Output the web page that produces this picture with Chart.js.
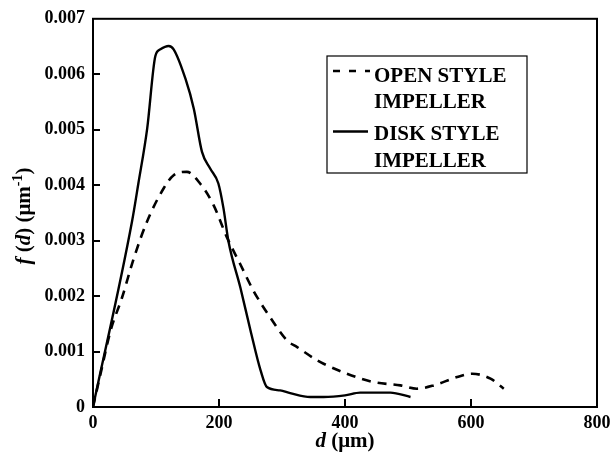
<!DOCTYPE html>
<html>
<head>
<meta charset="utf-8">
<script src="https://cdn.jsdelivr.net/npm/chart.js@4.4.1/dist/chart.umd.min.js"></script>
<style>
  html, body { margin: 0; padding: 0; background: #fff; }
  #wrap { width: 610px; height: 458px; }
</style>
</head>
<body>
<div id="wrap"><canvas id="myChart" width="610" height="458"></canvas></div>
<script>
'use strict';

// open style impeller (dashed)
let openD = [0, 12, 28, 46, 65, 86, 112, 128, 149, 170, 191, 213, 234, 255, 281, 308, 324, 356, 366, 403, 445, 488, 514, 541, 578, 602, 631, 652];
let openF = [0, 0.0006, 0.00138, 0.00197, 0.00269, 0.00335, 0.00394, 0.00418, 0.00424, 0.00403, 0.00365, 0.00305, 0.00257, 0.00209, 0.00162, 0.0012, 0.00108, 0.00084, 0.00078, 0.0006, 0.00045, 0.00039, 0.00033, 0.00039, 0.00054, 0.0006, 0.00051, 0.00033];

// disk style impeller (solid)
let diskD = [0, 62, 72, 86, 99, 107, 120, 128, 147, 160, 173, 186, 199, 207, 215, 234, 250, 266, 276, 297, 313, 345, 366, 400, 424, 472, 504];
let diskF = [0, 0.00335, 0.00403, 0.00502, 0.00633, 0.00645, 0.00651, 0.00645, 0.00591, 0.00538, 0.0046, 0.0043, 0.00403, 0.00359, 0.00299, 0.00215, 0.00138, 0.00066, 0.00036, 0.0003, 0.00025, 0.00018, 0.00018, 0.00021, 0.00026, 0.00026, 0.00018];

let xTicks = [0, 200, 400, 600, 800];
let yTicks = [0, 0.001, 0.002, 0.003, 0.004, 0.005, 0.006, 0.007];
let legendLines = [['OPEN STYLE', 'IMPELLER'], ['DISK STYLE', 'IMPELLER']];

const serif = "'Liberation Serif', 'Times New Roman', serif";

function toPoints(xs, ys) {
  let pts = [];
  for (let i = 0; i < xs.length; i++) {
    pts.push({ x: xs[i], y: ys[i] });
  }
  return pts;
}

let framePlugin = {
  id: 'frame',
  afterDraw(chart) {
    let ctx = chart.ctx;
    let a = chart.chartArea;
    let xs = chart.scales.x;
    let ys = chart.scales.y;
    ctx.save();
    ctx.strokeStyle = '#000';
    ctx.lineWidth = 2;
    ctx.strokeRect(a.left, a.top, a.right - a.left, a.bottom - a.top);

    // inward tick marks
    ctx.beginPath();
    for (let i = 1; i < xTicks.length - 1; i++) {
      let px = Math.round(xs.getPixelForValue(xTicks[i]));
      ctx.moveTo(px, a.bottom);
      ctx.lineTo(px, a.bottom - 8);
    }
    for (let i = 1; i < yTicks.length - 1; i++) {
      let py = Math.round(ys.getPixelForValue(yTicks[i]));
      ctx.moveTo(a.left, py);
      ctx.lineTo(a.left + 7, py);
    }
    ctx.stroke();

    // axis titles
    ctx.fillStyle = '#000';
    ctx.textBaseline = 'alphabetic';
    ctx.font = 'bold italic 21px ' + serif;
    let w1 = ctx.measureText('d').width;
    ctx.font = 'bold 21px ' + serif;
    let w2 = ctx.measureText(' (μm)').width;
    let sx = 345 - (w1 + w2) / 2;
    ctx.font = 'bold italic 21px ' + serif;
    ctx.fillText('d', sx, 447);
    ctx.font = 'bold 21px ' + serif;
    ctx.fillText(' (μm)', sx + w1, 447);

    // y title, rotated
    ctx.save();
    ctx.translate(30, 216);
    ctx.rotate(-Math.PI / 2);
    let parts = [
      ['f', 'bold italic 21px '],
      [' (', 'bold 21px '],
      ['d', 'bold italic 21px '],
      [') (μm', 'bold 21px '],
      ['-1', 'bold 14px '],
      [')', 'bold 21px ']
    ];
    let total = 0;
    for (let p of parts) {
      ctx.font = p[1] + serif;
      total += ctx.measureText(p[0]).width;
    }
    let cx = -total / 2;
    for (let p of parts) {
      ctx.font = p[1] + serif;
      let dy = p[0] === '-1' ? -8 : 0;
      ctx.fillText(p[0], cx, dy);
      cx += ctx.measureText(p[0]).width;
    }
    ctx.restore();

    // legend box
    ctx.lineWidth = 1.2;
    ctx.strokeRect(327, 56, 200, 117);
    ctx.font = 'bold 21px ' + serif;
    ctx.fillText(legendLines[0][0], 374, 82);
    ctx.fillText(legendLines[0][1], 374, 108);
    ctx.fillText(legendLines[1][0], 374, 140);
    ctx.fillText(legendLines[1][1], 374, 167);
    ctx.lineWidth = 2.5;
    ctx.setLineDash([7, 9]);
    ctx.beginPath();
    ctx.moveTo(333, 71);
    ctx.lineTo(370, 71);
    ctx.stroke();
    ctx.setLineDash([]);
    ctx.beginPath();
    ctx.moveTo(333, 131.5);
    ctx.lineTo(368, 131.5);
    ctx.stroke();
    ctx.restore();
  }
};

let chartStuff = {
  type: 'line',
  data: {
    datasets: [{
      label: 'OPEN STYLE IMPELLER',
      data: toPoints(openD, openF),
      borderColor: '#000',
      borderWidth: 2.6,
      borderDash: [9, 7],
      pointRadius: 0,
      fill: false,
      cubicInterpolationMode: 'monotone'
    },
    {
      label: 'DISK STYLE IMPELLER',
      data: toPoints(diskD, diskF),
      borderColor: '#000',
      borderWidth: 2.4,
      pointRadius: 0,
      fill: false,
      cubicInterpolationMode: 'monotone'
    }]
  },
  options: {
    responsive: false,
    animation: false,
    layout: {
      padding: { left: 0, top: 16, right: 13, bottom: 0 }
    },
    plugins: {
      legend: { display: false },
      tooltip: { enabled: false }
    },
    scales: {
      x: {
        type: 'linear',
        min: 0,
        max: 800,
        afterBuildTicks: (scale) => { scale.ticks = xTicks.map(v => ({ value: v })); },
        afterFit: (scale) => { scale.height = 51; scale.paddingRight = 0; scale.paddingLeft = 0; },
        grid: { display: false, drawTicks: false },
        border: { display: false },
        ticks: {
          color: '#000',
          padding: 6,
          maxRotation: 0,
          font: { family: serif, size: 18, weight: 'bold' }
        }
      },
      y: {
        min: 0,
        max: 0.007,
        afterBuildTicks: (scale) => { scale.ticks = yTicks.map(v => ({ value: v })); },
        afterFit: (scale) => { scale.width = 93; },
        grid: { display: false, drawTicks: false },
        border: { display: false },
        ticks: {
          color: '#000',
          padding: 8,
          font: { family: serif, size: 18, weight: 'bold' },
          callback: (v) => v === 0 ? '0' : v.toFixed(3)
        }
      }
    }
  },
  plugins: [framePlugin]
};

const ctx = document.getElementById('myChart').getContext('2d');
// eslint-disable-next-line no-undef
new Chart(ctx, chartStuff);
</script>
</body>
</html>
